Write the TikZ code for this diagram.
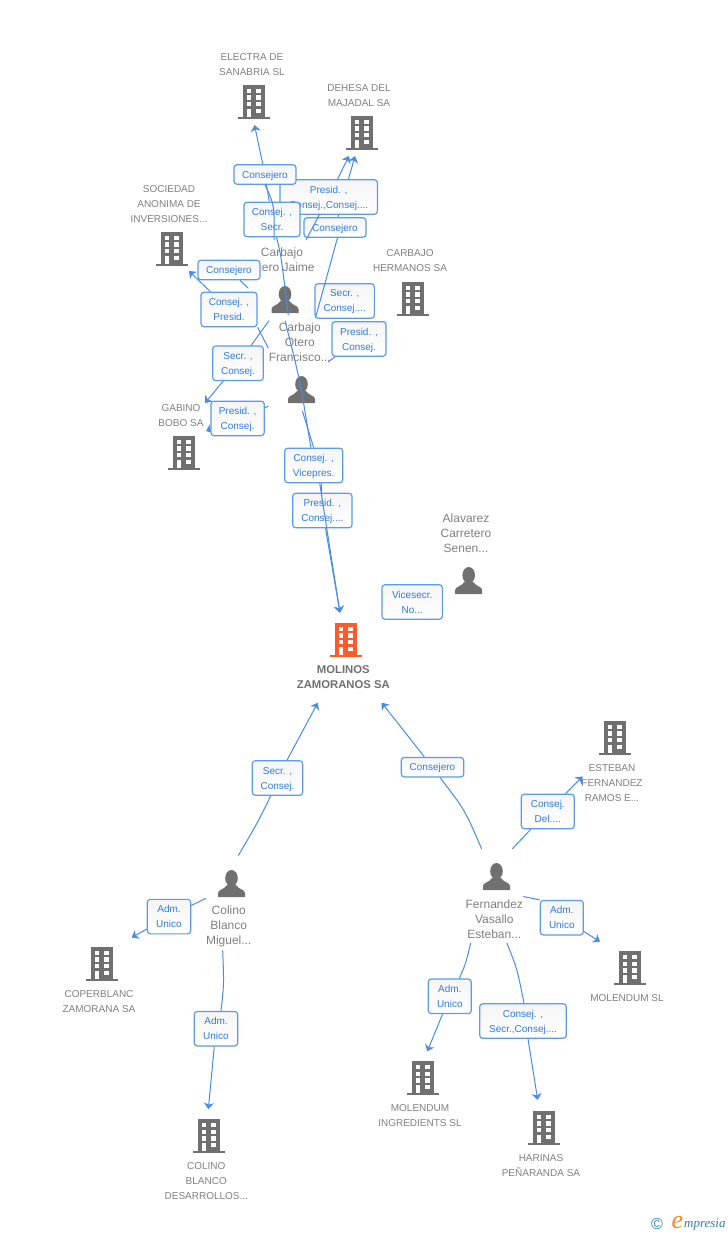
\documentclass[tikz,border=0pt]{standalone}
\usepackage{fontspec}
\setmainfont{Liberation Sans}
\newfontfamily\logofont{Liberation Serif}
\usepackage{xcolor}
\usepackage{tikz}
\usetikzlibrary{arrows.meta,calc}

\definecolor{icongrey}{HTML}{707070}
\definecolor{iconred}{HTML}{FF5A2C}
\definecolor{textgrey}{HTML}{808080}
\definecolor{linkblue}{HTML}{4A8BE3}
\definecolor{rimblue}{HTML}{5E9AE8}
\definecolor{tagblue}{HTML}{2F7BE3}
\definecolor{logoteal}{HTML}{2F7F9F}
\definecolor{logoorange}{HTML}{F08A1E}

\pgfdeclarelayer{boxes}
\pgfdeclarelayer{front}
\pgfsetlayers{main,boxes,front}

\tikzset{
  pics/bldg/.style={code={
    \fill[#1] (-16,31.5) rectangle (16,33.5);
    \fill[#1] (-11.2,0) rectangle (11.2,32);
    \foreach \wy/\wz in {3.7/7.7, 10.3/14.7, 17/21.3}{
      \fill[white] (-7.3,\wy) rectangle (-2.7,\wz);
      \fill[white] (2.3,\wy) rectangle (7.3,\wz);
    }
    \fill[white] (-7.3,23.7) rectangle (-2.7,32);
    \fill[white] (2.3,23.7) rectangle (7.3,28);
  }},
  pics/person/.style={code={
    \fill[icongrey] (0,8.2) ellipse (6.3 and 8.2);
    \fill[icongrey] (-13.5,27) -- (-13.5,23) .. controls (-13.5,19.5) and (-7,19.5) .. (-4.5,15)
      -- (4.5,15) .. controls (7,19.5) and (13.5,19.5) .. (13.5,23) -- (13.5,27) -- cycle;
  }},
  lbl/.style={text=textgrey,align=center,inner sep=0pt,text depth=0pt,yshift=-1pt,font=\fontsize{10}{15}\selectfont},
  who/.style={text=textgrey,align=center,inner sep=0pt,text depth=0pt,font=\fontsize{12}{15}\selectfont},
  tag/.style={draw=rimblue,line width=1.2pt,rounded corners=3pt,top color=black!4,bottom color=white,
    text=tagblue,align=center,inner sep=0pt,text depth=0pt,font=\fontsize{10}{15}\selectfont},
  link/.style={draw=linkblue,line width=1pt},
  linkh/.style={link,-{Stealth[length=6.5pt,width=10pt,inset=2pt]}}
}

\begin{document}
\begin{tikzpicture}[x=1pt,y=-1pt]
\useasboundingbox (0,0) rectangle (728,1235);

% Companies
\foreach \x/\y in {254/85, 362/116, 172/232, 413/282, 184/436, 615/721, 630/951.4, 423/1061.3, 544/1111.1, 102/947, 209/1119.3}
    \pic at (\x,\y) {bldg=icongrey};
\pic at (346,623) {bldg=iconred};

% People
\foreach \x/\y in {285/286, 301.5/376, 468.7/567, 231.5/870, 496.5/863}
    \pic at (\x,\y) {person};

% Company names
\foreach \nm/\x/\y/\txt in {
    electra/252/63.5/{ELECTRA DE\\SANABRIA  SL},
    dehesa/359/95/{DEHESA DEL\\MAJADAL SA},
    sociedad/169/203/{SOCIEDAD\\ANONIMA DE\\INVERSIONES...},
    hermanos/410/260/{CARBAJO\\HERMANOS SA},
    gabino/181/414.5/{GABINO\\BOBO SA},
    coperblanc/99/1000.5/{COPERBLANC\\ZAMORANA SA},
    desarrollos/206.3/1180/{COLINO\\BLANCO\\DESARROLLOS...},
    esteban/612/781.9/{ESTEBAN\\FERNANDEZ\\RAMOS E...},
    molendum/627/996.8/{MOLENDUM SL},
    ingredients/420/1114.5/{MOLENDUM\\INGREDIENTS  SL},
    harinas/541/1164.3/{HARINAS\\PEÑARANDA SA}}
    \node[lbl] (\nm) at (\x,\y) {\txt};
\node[lbl,text=icongrey,font=\bfseries\fontsize{11.3}{15}\selectfont] (molinos) at (343.3,675.8) {MOLINOS\\ZAMORANOS SA};

% Person names
\foreach \nm/\x/\y/\txt in {
    jaime/282/259.2/{Carbajo\\\phantom{Ot}ero Jaime},
    francisco/299.8/341.7/{Carbajo\\Otero\\Francisco...},
    alavarez/466/532.7/{Alavarez\\Carretero\\Senen...},
    miguel/228.7/925.6/{Colino\\Blanco\\Miguel...},
    fernandez/494.3/918.7/{Fernandez\\Vasallo\\Esteban...}}
    \node[who] (\nm) at (\x,\y) {\txt};

% Role boxes
\begin{pgfonlayer}{boxes}
\foreach \nm/\x/\y/\bw/\bh/\txt in {
    bxPresA/328.7/197/97.5/34.5/{Presid. ,\\Consej.,Consej....},
    bxConsA/265/174.5/62/19.5/{Consejero},
    bxSecrA/272/219.5/56/34.5/{Consej. ,\\Secr.},
    bxConsB/335/227.5/62/19.5/{Consejero},
    bxConsC/229/270/62/19.5/{Consejero},
    bxPresB/229/309.5/56/34.5/{Consej. ,\\Presid.},
    bxSecrB/344.7/301/59.3/34.5/{Secr. ,\\Consej....},
    bxPresC/359/339/54/34.5/{Presid. ,\\Consej.},
    bxSecrC/238/363.3/50.6/34.5/{Secr. ,\\Consej.},
    bxPresD/237.6/418.4/53.3/34.5/{Presid. ,\\Consej.},
    bxVice/313.7/465.5/58/34.5/{Consej. ,\\Vicepres.},
    bxPresE/322.4/510.5/59.3/34.5/{Presid. ,\\Consej....},
    bxNo/412.2/602/60.3/34.5/{Vicesecr.\\No...},
    bxSecrD/277.5/778/50.4/34.5/{Secr. ,\\Consej.},
    bxAdmA/169/916.6/43.4/34.5/{Adm.\\Unico},
    bxAdmB/216/1028.7/43.4/34.5/{Adm.\\Unico},
    bxConsD/432.5/767.2/62.4/19.5/{Consejero},
    bxDel/547.8/811.4/53/34.5/{Consej.\\Del....},
    bxAdmC/561.8/917.7/43/34.5/{Adm.\\Unico},
    bxAdmD/449.8/996.3/43/34.5/{Adm.\\Unico},
    bxSecrE/523/1021/86.6/34.5/{Consej. ,\\Secr.,Consej....}}
    \node[tag,minimum width=\bw pt,minimum height=\bh pt] (\nm) at (\x,\y) {\txt};
\end{pgfonlayer}

% Free ends of the connectors
\foreach \nm/\x/\y in {
    sA/274/240, sB/288.3/315, tElectra/254.5/125,
    sC/306/240, sD/315.7/317, tDehesaA/349/156, tDehesaB/355/156,
    sE/248.3/288.3, sF/268.3/348, tSociedad/189/271,
    sG/328/362, tHermanos/385/321,
    sH/269/320.7, tGabinoA/205/403, sI/268.3/406.3, tGabinoB/206/431,
    sJ/285/320.7, sK/302.3/410.7, tMolinos/340/612.7,
    sL/238.3/855.6, tMolinosB/317.7/702.8,
    sM/206/898.2, tCoper/131.7/937.5,
    sN/222.7/950.3, tColino/208.3/1109.2,
    sO/481.7/849.1, tMolinosC/381.7/702.7,
    sP/512.3/848.8, tEsteban/582.7/776.4,
    sQ/523.3/896.5, tMolendum/600/941.6,
    sR/470.7/942.9, tIngred/427.3/1051.4,
    sS/506.7/942.9, tHarinas/537.7/1099.9}
    \coordinate (\nm) at (\x,\y);

% Upper connectors
\draw[linkh] (sB) .. controls (281,255) .. (bxSecrA) -- (bxConsA) -- (tElectra);
\draw[linkh] (bxConsB) -- (tDehesaB);
\draw[link] (sE) -- (bxConsC);
\draw[link] (sF) -- (bxPresB.south east);
\draw[linkh] (bxPresB) -- (tSociedad);
\draw[link] (sG) -- (bxPresC) -- (tHermanos);
\draw[linkh] (sH) -- (bxSecrC) -- (tGabinoA);
\draw[linkh] (sI) -- (bxPresD) -- (tGabinoB);
\draw[link] (sJ) .. controls (300,380) .. (bxVice);
\draw[link] (sK) -- (bxVice.north);
\draw[linkh] ($(bxVice.south)+(7.5,0)$) -- (bxPresE) -- (tMolinos);

\begin{pgfonlayer}{front}
\draw[link] (sA) .. controls (274.5,205) .. (bxConsA.south);
\draw[linkh] (sC) -- (bxPresA) -- (tDehesaA);
\draw[link] (sD) -- ($(bxConsB.south)+(2.5,0)$);
\draw[linkh] ($(bxVice.south)+(6,0)$) -- (tMolinos);
\end{pgfonlayer}

% Lower connectors
\draw[link] (sL) .. controls (258,822) .. ($(bxSecrD.south)+(-6.8,0)$);
\draw[linkh] (bxSecrD) -- (tMolinosB);
\draw[linkh] (sM) -- (bxAdmA) -- (tCoper);
\draw[link] (sN) .. controls (224,985) .. ($(bxAdmB.north)+(5,0)$);
\draw[linkh] (bxAdmB) -- (tColino);
\draw[link] (sO) .. controls (465,810) .. ($(bxConsD.south)+(7.5,0)$);
\draw[linkh] (bxConsD) -- (tMolinosC);
\draw[linkh] (sP) -- (bxDel) -- (tEsteban);
\draw[link] (sQ) -- (bxAdmC.north west);
\draw[linkh] (bxAdmC) -- (tMolendum);
\draw[link] (sR) .. controls (466,963) .. ($(bxAdmD.north)+(9.5,0)$);
\draw[linkh] (bxAdmD) -- (tIngred);
\draw[link] (sS) .. controls (517,968) .. ($(bxSecrE.north)+(1,0)$);
\draw[linkh] ($(bxSecrE.south)+(5,0)$) -- (tHarinas);

% Logo
\node[text=logoteal,inner sep=0pt,font=\fontsize{16}{16}\selectfont] (copy) at (657,1224) {©};
\node[text=logoorange,inner sep=0pt,font=\logofont\itshape\fontsize{26}{26}\selectfont] (logoe) at (677.5,1222) {e};
\node[text=logoteal,inner sep=0pt,anchor=west,font=\logofont\itshape\fontsize{13}{14}\selectfont] (logot) at (684,1224.5) {mpresia};
\end{tikzpicture}
\end{document}
